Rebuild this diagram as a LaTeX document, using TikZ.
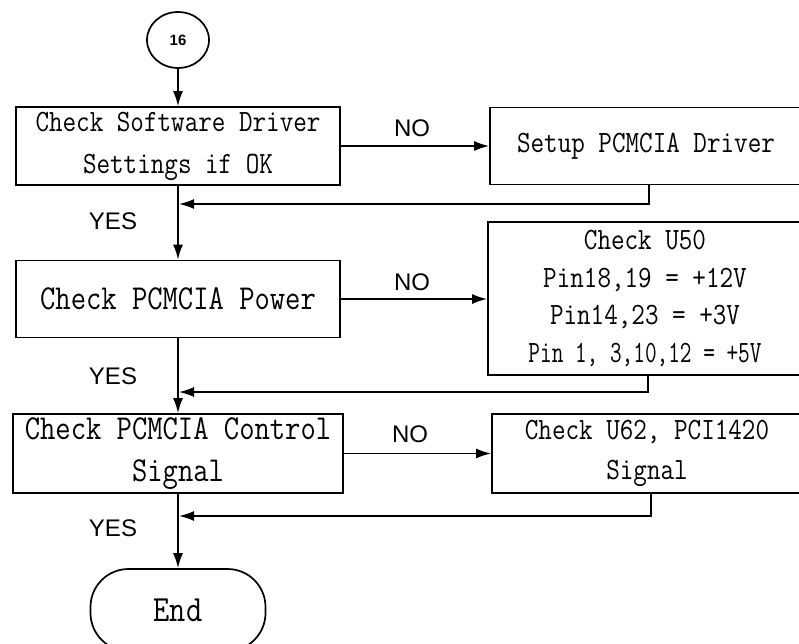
\documentclass[tikz,border=0pt]{standalone}
\usepackage{fontspec}
\newfontfamily\sansf{Liberation Sans}
\newfontfamily\monof{Latin Modern Mono}[FakeStretch=0.85]
\newfontfamily\monon{Latin Modern Mono}[FakeStretch=0.73]
\usetikzlibrary{arrows.meta,shapes.geometric}
\begin{document}
\begin{tikzpicture}[x=1pt,y=-1pt,
  box/.style={draw, line width=1.7pt, inner sep=0pt, align=center, font=\monof\fontsize{31}{42}\selectfont},
  flow/.style={line width=1.7pt, -{Latex[length=15pt,width=10pt]}},
  yn/.style={font=\sansf\fontsize{24}{24}\selectfont}]
\useasboundingbox (0,0) rectangle (799,644);
% start connector
\node[draw, ellipse, line width=1.7pt, minimum width=62pt, minimum height=56pt, inner sep=0pt,
      font=\sansf\bfseries\fontsize{15}{15}\selectfont] (c16) at (178,40) {16};
% row 1
\node[box, minimum width=324pt, minimum height=78pt] (b1) at (178,146) {Check Software Driver\\Settings if OK};
\node[box, minimum width=312pt, minimum height=77pt] (r1) at (646,146) {Setup PCMCIA Driver};
% row 2
\node[box, minimum width=324pt, minimum height=77pt, font=\monof\fontsize{35}{36}\selectfont] (b2) at (178,299) {Check PCMCIA Power};
\node[box, minimum width=314pt, minimum height=153pt, font=\monof\fontsize{31}{37.5}\selectfont] (r2) at (645,298.5)
  {Check U50\\Pin18,19 = +12V\\Pin14,23 = +3V\\{\monon Pin 1, 3,10,12 = +5V}};
% row 3
\node[box, minimum width=330pt, minimum height=79pt, font=\monof\fontsize{35}{42}\selectfont] (b3) at (178,453.5) {Check PCMCIA Control\\Signal};
\node[box, minimum width=310pt, minimum height=79pt, font=\monof\fontsize{31}{40}\selectfont] (r3) at (647,453.5) {Check U62, PCI1420\\Signal};
% end
\node[draw, line width=1.7pt, rounded corners=38pt, minimum width=175pt, minimum height=82pt, inner sep=0pt,
      font=\monof\fontsize{37}{37}\selectfont] (end) at (178,610) {End};
% labels
\node[yn] (no1) at (412,128) {NO};
\node[yn] (no2) at (412,282) {NO};
\node[yn] (no3) at (410,434) {NO};
\node[yn] (yes1) at (113,221) {YES};
\node[yn] (yes2) at (113,376) {YES};
\node[yn] (yes3) at (113,528) {YES};
% junction coordinates
\coordinate (t1) at (649,204);
\coordinate (j1) at (179,204);
\coordinate (t2) at (648,392);
\coordinate (j2) at (179,392);
\coordinate (t3) at (651,516);
\coordinate (j3) at (179,516);
% connectors
\draw[flow] (c16.south) -- (b1.north);
\draw[flow] (b1.east) -- (r1.west);
\draw[flow] (r1.south -| t1) -- (t1) -- (j1);
\draw[flow] (b1.south) -- (b2.north);
\draw[flow] (b2.east) -- (r2.west |- b2.east);
\draw[flow] (r2.south -| t2) -- (t2) -- (j2);
\draw[flow] (b2.south) -- (b3.north);
\draw[flow] (b3.east) -- (r3.west);
\draw[flow] (r3.south -| t3) -- (t3) -- (j3);
\draw[flow] (b3.south) -- (end.north);
\end{tikzpicture}
\end{document}
